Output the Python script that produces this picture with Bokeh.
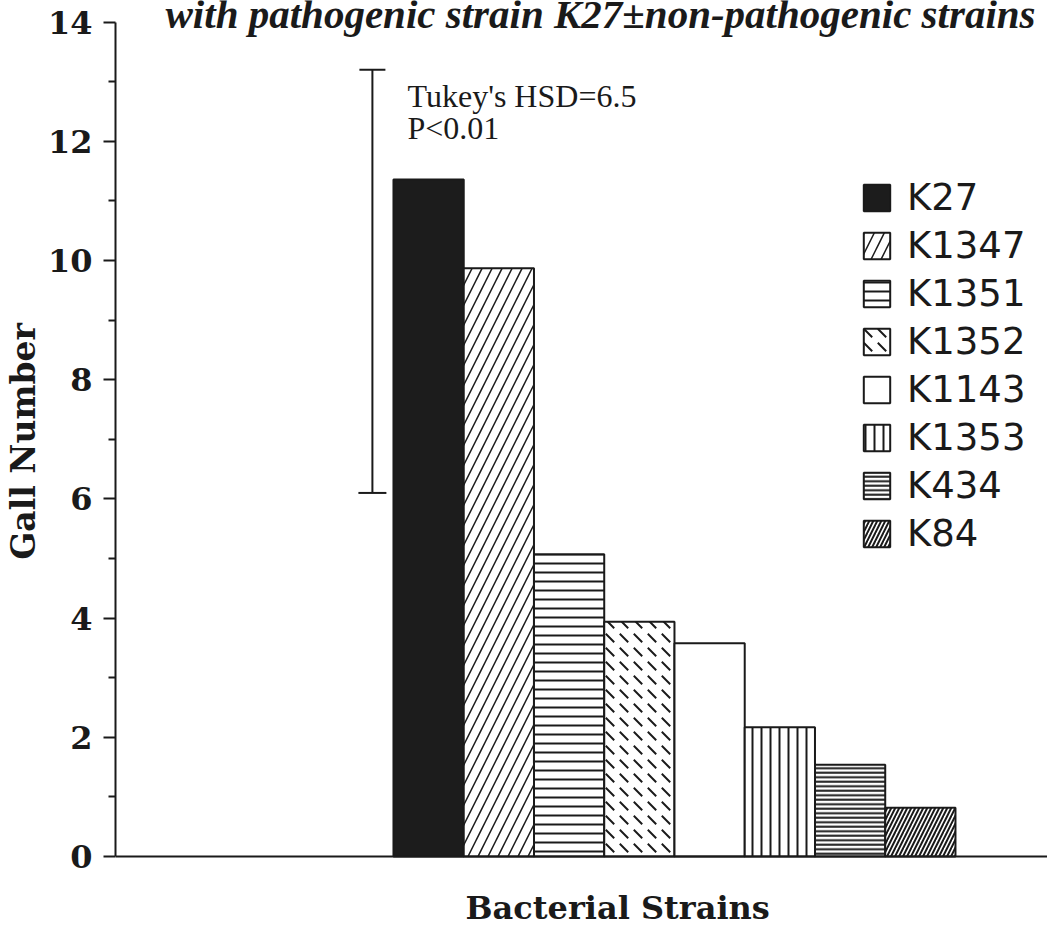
from bokeh.plotting import figure
from bokeh.models import (Range1d, FixedTicker, ColumnDataSource, Label, Title,
                          Whisker, TeeHead, LinearAxis)
from bokeh.embed import file_html
from bokeh.resources import INLINE

# ---- data ----
strains = ["K27", "K1347", "K1351", "K1352", "K1143", "K1353", "K434", "K84"]
gall_number = [11.36, 9.87, 5.07, 3.94, 3.58, 2.17, 1.54, 0.82]

hsd_x = [-0.3]
hsd_low = [6.1]
hsd_high = [13.2]

y_ticks = [0, 2, 4, 6, 8, 10, 12, 14]
y_minor_ticks = [1, 3, 5, 7, 9, 11, 13]

title_text = "with pathogenic strain K27\u00b1non-pathogenic strains"
x_label = "Bacterial Strains"
y_label = "Gall Number"
hsd_lines = ["Tukey's HSD=6.5", "P<0.01"]

# ---- styles ----
fill_colors = ["#1c1c1c"] + ["white"] * 7
hatch_patterns = ["blank", "right_diagonal_line", "horizontal_line", "left_diagonal_dash",
                  "blank", "vertical_line", "horizontal_line", "right_diagonal_line"]
hatch_scales = [10, 20, 9, 14, 10, 9, 4.5, 8]
hatch_weights = [1, 1.5, 2, 2, 1, 2, 2, 2]

INK = "#1a1a1a"
SERIF = "DejaVu Serif"

src = ColumnDataSource(dict(
    x=[i + 0.5 for i in range(len(strains))],
    top=gall_number,
    strain=strains,
    fill=fill_colors,
    hp=hatch_patterns,
    hs=hatch_scales,
    hw=hatch_weights,
))

W, H = 1047, 930
p = figure(width=W, height=H, output_backend="svg", toolbar_location=None,
           x_range=Range1d(-3.957, 9.310), y_range=Range1d(-0.436, 14.362),
           x_axis_location=None,
           min_border_left=115, min_border_right=0, min_border_top=0,
           min_border_bottom=0)
p.outline_line_color = None
p.xgrid.visible = False
p.ygrid.visible = False
p.background_fill_color = "white"
p.border_fill_color = "white"

p.vbar(x="x", top="top", bottom=0, width=1.0, source=src,
       fill_color="fill", line_color=INK, line_width=2,
       hatch_pattern="hp", hatch_scale="hs", hatch_weight="hw",
       hatch_color=INK, legend_field="strain")

# y axis
ya = p.yaxis[0]
ya.ticker = FixedTicker(ticks=y_ticks, minor_ticks=y_minor_ticks)
ya.bounds = (0, 14)
ya.axis_line_color = INK
ya.axis_line_width = 2
ya.major_tick_line_color = INK
ya.major_tick_line_width = 2
ya.minor_tick_line_color = INK
ya.minor_tick_line_width = 2
ya.major_tick_in = 0
ya.major_tick_out = 12
ya.minor_tick_in = 0
ya.minor_tick_out = 7
ya.major_label_standoff = 11
ya.major_label_text_font = SERIF
ya.major_label_text_font_style = "bold"
ya.major_label_text_font_size = "32px"
ya.major_label_text_color = INK
ya.axis_label = y_label
ya.axis_label_text_font = SERIF
ya.axis_label_text_font_style = "bold"
ya.axis_label_text_font_size = "33px"
ya.axis_label_text_color = INK
ya.axis_label_standoff = 2

# x axis: only the line, drawn at y = 0
xa = LinearAxis(fixed_location=0, ticker=FixedTicker(ticks=[]),
                major_label_text_font_size="0px", major_tick_out=0, major_tick_in=0,
                minor_tick_out=0, minor_tick_in=0, major_label_standoff=0,
                axis_line_color=INK, axis_line_width=2,
                major_tick_line_color=None, minor_tick_line_color=None)
p.add_layout(xa, "below")

# x axis title, below the plot
p.add_layout(Title(text=x_label, align="left", offset=350, standoff=8,
                   text_font=SERIF, text_font_style="bold", text_font_size="32px",
                   text_color=INK), "below")

# HSD whisker
hsd_src = ColumnDataSource(dict(x=hsd_x, lower=hsd_low, upper=hsd_high))
p.add_layout(Whisker(base="x", lower="lower", upper="upper", source=hsd_src,
                     line_color=INK, line_width=2,
                     upper_head=TeeHead(size=26, line_color=INK, line_width=2),
                     lower_head=TeeHead(size=28, line_color=INK, line_width=2)))

p.add_layout(Label(x=0.20, y=12.752, text=hsd_lines[0], text_font="Liberation Serif",
                   text_font_size="32px", text_color=INK, text_baseline="alphabetic"))
p.add_layout(Label(x=0.20, y=12.215, text=hsd_lines[1], text_font="Liberation Serif",
                   text_font_size="32px", text_color=INK, text_baseline="alphabetic"))

# title (cut off at the top like the reference)
p.add_layout(Label(x=-3.245, y=14.13, text=title_text, text_font="Liberation Serif",
                   text_font_style="bold italic", text_font_size="41px",
                   text_color=INK, text_baseline="alphabetic"))

# legend
lg = p.legend[0]
lg.border_line_color = None
lg.background_fill_alpha = 0
lg.padding = 0
lg.margin = 0
lg.spacing = 4
lg.glyph_width = 33
lg.glyph_height = 33
lg.label_height = 44
lg.label_standoff = 14
lg.label_text_font = "DejaVu Sans"
lg.label_text_font_size = "37px"
lg.label_text_color = INK
lg.location = (745, 882 - 555)

open("out.html", "w").write(file_html(p, INLINE))
